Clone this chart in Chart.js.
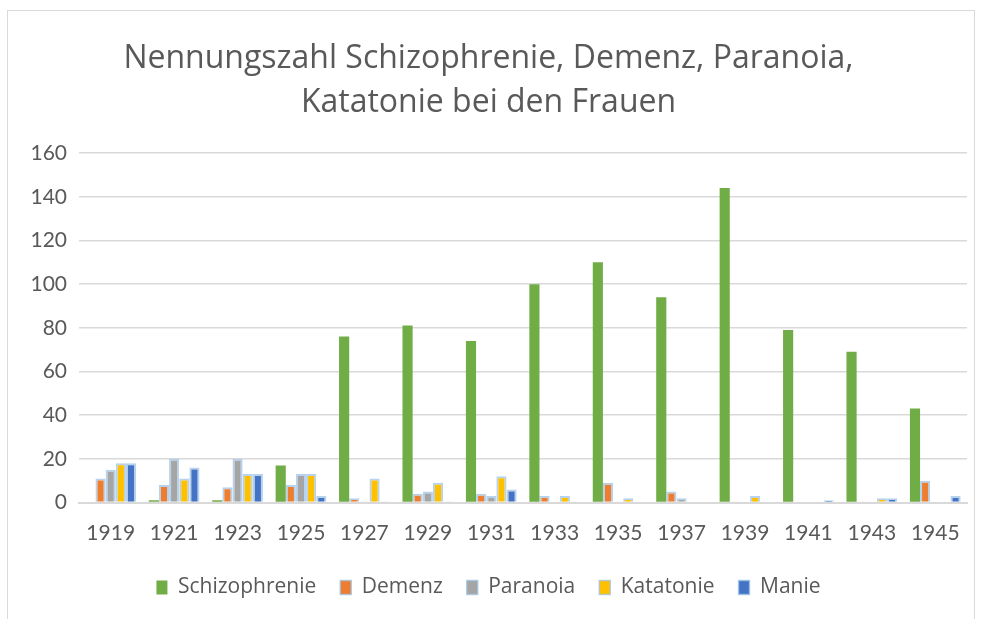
<!DOCTYPE html>
<html>
<head>
<meta charset="utf-8">
<script src="https://cdn.jsdelivr.net/npm/chart.js@4/dist/chart.umd.min.js"></script>
<style>
  html, body { margin: 0; padding: 0; background: #fff; overflow: hidden; }
  #frame {
    position: absolute; left: 7px; top: 10px; width: 968px; height: 640px;
    border: 1.5px solid #d9d9d9; box-sizing: border-box;
  }
  #wrap { position: absolute; left: 10px; top: 0; width: 981px; height: 619px; }
</style>
</head>
<body>
<div id="frame"></div>
<div id="wrap"><canvas id="chart" width="981" height="619"></canvas></div>
<script>
// Years on the x axis
const years = ["1919", "1921", "1923", "1925", "1927", "1929", "1931",
  "1933", "1935", "1937", "1939", "1941", "1943", "1945"];

// Counts per diagnosis
const schizophrenie = [0, 1, 1, 17, 76, 81, 74, 100, 110, 94, 144, 79, 69, 43];
const demenz = [11, 8, 7, 8, 2, 4, 4, 3, 9, 5, 0.5, 0, 0.5, 10];
const paranoia = [15, 20, 20, 13, 0.5, 5, 3, 0, 0.5, 2, 0, 0, 0, 0];
const katatonie = [18, 11, 13, 13, 11, 9, 12, 3, 2, 0, 3, 0, 2, 0];
const manie = [18, 16, 13, 3, 0.5, 0.5, 6, 0, 0, 0, 0, 1, 2, 3];

const yTicks = [0, 20, 40, 60, 80, 100, 120, 140, 160];

// Excel-like colours
const textGray = "#595959";
const gridGray = "#d9d9d9";
const glowBlue = "rgba(157,195,230,0.75)";

function makeSet(label, data, color, glow) {
  return {
    label: label,
    data: data,
    backgroundColor: color,
    borderColor: glow ? glowBlue : color,
    borderWidth: glow ? 2 : 0,
    borderSkipped: "bottom",
    categoryPercentage: 0.8,
    barPercentage: 1.0,
  };
}

const config = {
  type: "bar",
  data: {
    labels: years,
    datasets: [
      makeSet("Schizophrenie", schizophrenie, "#70ad47", false),
      makeSet("Demenz", demenz, "#ed7d31", true),
      makeSet("Paranoia", paranoia, "#a5a5a5", true),
      makeSet("Katatonie", katatonie, "#ffc000", true),
      makeSet("Manie", manie, "#4472c4", true),
    ],
  },
  options: {
    responsive: false,
    animation: false,
    layout: { padding: { top: 36, left: 0, right: 24, bottom: 11 } },
    plugins: {
      tooltip: { enabled: false },
      title: {
        display: true,
        text: ["Nennungszahl Schizophrenie, Demenz, Paranoia,", "Katatonie bei den Frauen"],
        color: textGray,
        font: { family: "Open Sans", size: 32, weight: "normal", lineHeight: 1.4 },
        padding: { top: 0, bottom: 27.5 },
      },
      legend: {
        position: "bottom",
        labels: {
          color: textGray,
          font: { family: "Open Sans", size: 21 },
          boxWidth: 11,
          boxHeight: 14,
          padding: 24,
          generateLabels(chart) {
            return chart.data.datasets.map((ds, i) => ({
              text: ds.label,
              fillStyle: ds.backgroundColor,
              strokeStyle: ds.borderWidth ? glowBlue : ds.backgroundColor,
              lineWidth: ds.borderWidth ? 1.5 : 0,
              fontColor: textGray,
              datasetIndex: i,
            }));
          },
        },
      },
    },
    scales: {
      x: {
        grid: { display: false },
        border: { display: true, color: gridGray, width: 2 },
        ticks: {
          color: textGray,
          font: { family: "Lato", size: 21 },
          padding: 10,
          maxRotation: 0,
        },
        afterFit(scale) { scale.height = 50.5; },
      },
      y: {
        min: 0,
        max: 160,
        afterBuildTicks(scale) { scale.ticks = yTicks.map((v) => ({ value: v })); },
        grid: { color: gridGray, lineWidth: 1.5, drawTicks: false },
        border: { display: false },
        ticks: {
          color: textGray,
          font: { family: "Lato", size: 21 },
          padding: 12,
        },
        afterFit(scale) { scale.width = 69; },
      },
    },
  },
};

new Chart(document.getElementById("chart").getContext("2d"), config);
</script>
</body>
</html>
